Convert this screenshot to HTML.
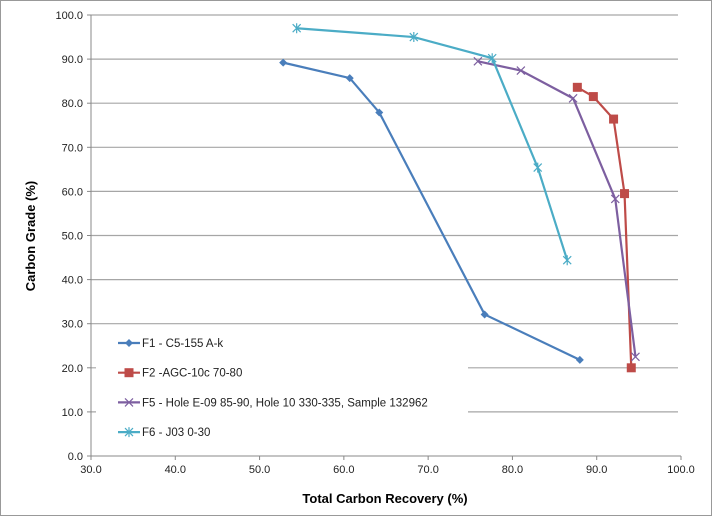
<!DOCTYPE html>
<html><head><meta charset="utf-8"><style>
html,body{margin:0;padding:0;background:#fff;}
svg{display:block;font-family:"Liberation Sans",Arial,sans-serif;}
</style></head><body>
<svg id="chart" width="714" height="518" viewBox="0 0 714 518">
<rect x="0.5" y="0.5" width="711" height="515" fill="#fff" stroke="#999"/>
<g id="grid"></g>
<g id="axes"></g>
<g id="series"></g>
<g id="legend"></g>
<text x="385" y="503" font-size="13" font-weight="bold" text-anchor="middle" fill="#000">Total Carbon Recovery (%)</text>
<text transform="translate(35,236) rotate(-90)" font-size="13" font-weight="bold" text-anchor="middle" fill="#000">Carbon Grade (%)</text>
</svg>
<script>
const xTicks=[30,40,50,60,70,80,90,100];
const yTicks=[0,10,20,30,40,50,60,70,80,90,100];
const seriesNames=["F1 - C5-155 A-k","F2 -AGC-10c 70-80","F5 - Hole E-09 85-90, Hole 10 330-335, Sample 132962","F6 - J03 0-30"];
const f1X=[52.8,60.7,64.2,76.7,88.0];
const f1Y=[89.2,85.7,77.9,32.1,21.8];
const f2X=[87.7,89.6,92.0,93.3,94.1];
const f2Y=[83.6,81.5,76.4,59.5,20.0];
const f5X=[75.9,81.0,87.2,92.2,94.6];
const f5Y=[89.5,87.4,81.1,58.3,22.5];
const f6X=[54.4,68.3,77.6,83.0,86.5];
const f6Y=[97.0,95.0,90.2,65.4,44.4];

const NS="http://www.w3.org/2000/svg";
const L=91,R=681,T=15,B=456;
const sx=v=>L+(v-30)/70*(R-L);
const sy=v=>B-v/100*(B-T);
function mk(tag,attrs,parent){const e=document.createElementNS(NS,tag);for(const k in attrs)e.setAttribute(k,attrs[k]);parent.appendChild(e);return e;}
const grid=document.getElementById('grid'),axes=document.getElementById('axes'),ser=document.getElementById('series'),leg=document.getElementById('legend');
yTicks.forEach(v=>{
 if(v>0){const g=mk('line',{x1:L,x2:R-3,y1:sy(v),y2:sy(v),stroke:'#a6a6a6','stroke-width':1.2},grid);
 
 }
 const t=mk('text',{x:L-8,y:sy(v)+4,'font-size':11,'text-anchor':'end',fill:'#222'},axes);t.textContent=v.toFixed(1);
 
 
 mk('line',{x1:L-4,x2:L,y1:sy(v),y2:sy(v),stroke:'#888'},axes);
});
xTicks.forEach(v=>{
 const t=mk('text',{x:sx(v),y:B+17,'font-size':11,'text-anchor':'middle',fill:'#222'},axes);t.textContent=v.toFixed(1);
 
 
 mk('line',{x1:sx(v),x2:sx(v),y1:B,y2:B+4,stroke:'#888'},axes);
});
mk('line',{x1:L,x2:L,y1:T,y2:B,stroke:'#888'},axes);
mk('line',{x1:L,x2:R,y1:B,y2:B,stroke:'#888'},axes);

const colors=['#4a7ebb','#be4b48','#7d5fa0','#4bacc6'];
const marks=['diamond','square','x','star'];
function marker(type,x,y,c,parent){
 if(type==='diamond')return mk('path',{d:`M${x} ${y-4}L${x+4} ${y}L${x} ${y+4}L${x-4} ${y}Z`,fill:c},parent);
 if(type==='square')return mk('rect',{x:x-4.5,y:y-4.5,width:9,height:9,fill:c},parent);
 if(type==='x')return mk('path',{d:`M${x-4} ${y-4}L${x+4} ${y+4}M${x-4} ${y+4}L${x+4} ${y-4}`,stroke:c,'stroke-width':1.2},parent);
 return mk('path',{d:`M${x-4} ${y-4}L${x+4} ${y+4}M${x-4} ${y+4}L${x+4} ${y-4}M${x} ${y-5}L${x} ${y+5}`,stroke:c,'stroke-width':1.2},parent);
}
const data=[[f1X,f1Y],[f2X,f2Y],[f5X,f5Y],[f6X,f6Y]];
const ids=['f1','f2','f5','f6'];
data.forEach((d,i)=>{
 const g=mk('g',{},ser);
 
 
 const pts=d[0].map((x,j)=>sx(x)+','+sy(d[1][j])).join(' ');
 const pl=mk('polyline',{points:pts,fill:'none',stroke:colors[i],'stroke-width':2.2},g);
 
 
 d[0].forEach((x,j)=>{const m=marker(marks[i],sx(x),sy(d[1][j]),colors[i],g);
  
  });
});
const lb=mk('rect',{x:96,y:330,width:372,height:122,fill:'#fff'},leg);


seriesNames.forEach((n,i)=>{
 const y=343+i*29.7;
 const g=mk('g',{},leg);
 
 
 mk('line',{x1:118,x2:140,y1:y,y2:y,stroke:colors[i],'stroke-width':2.2},g);
 marker(marks[i],129,y,colors[i],g);
 const t=mk('text',{x:142,y:y+4,'font-size':11.5,fill:'#222'},g);t.textContent=n;
});
</script>
</body></html>
